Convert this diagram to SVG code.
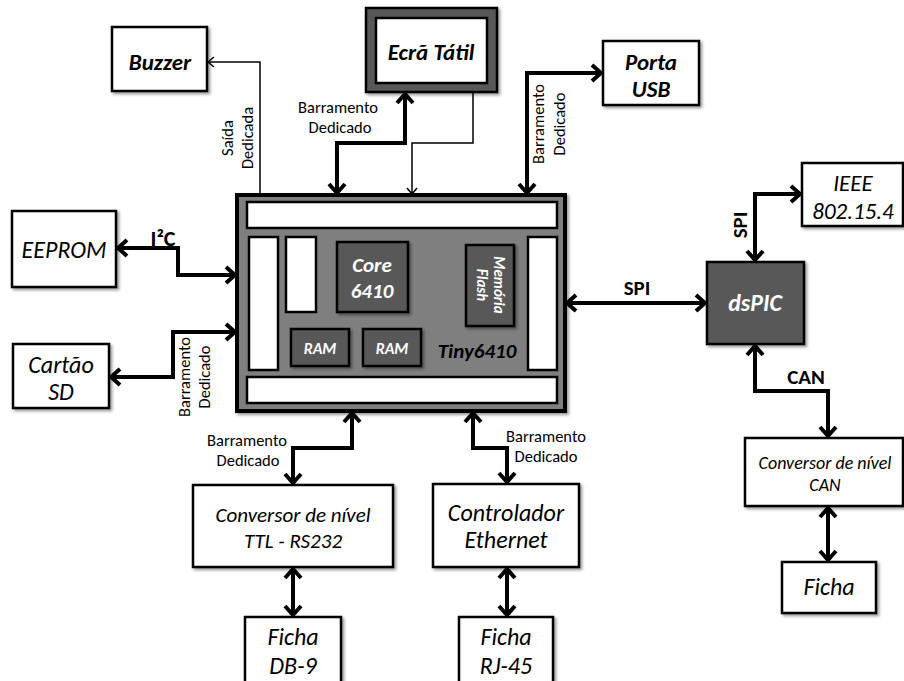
<svg xmlns="http://www.w3.org/2000/svg" width="904" height="681" viewBox="0 0 904 681">
<defs>
<filter id="sh" x="-10%" y="-10%" width="130%" height="130%"><feDropShadow dx="2" dy="2" stdDeviation="1.5" flood-color="#000" flood-opacity="0.4"/></filter>
<marker id="ah" markerWidth="22" markerHeight="22" refX="15" refY="10" orient="auto-start-reverse" markerUnits="userSpaceOnUse"><path d="M5,2 L14,10 L5,18" fill="none" stroke="#000" stroke-width="4"/></marker>
<marker id="at" markerWidth="14" markerHeight="14" refX="9" refY="6" orient="auto-start-reverse" markerUnits="userSpaceOnUse"><path d="M3,1 L9,6 L3,11" fill="none" stroke="#000" stroke-width="1.5"/></marker>
</defs>
<style>
.box{fill:#fff;stroke:#000;stroke-width:2.5;filter:url(#sh)}
.dk{fill:#595959;stroke:#000;stroke-width:2.5;filter:url(#sh)}
.wb{fill:#fff;stroke:#000;stroke-width:2.5}
.t{font-family:Carlito,Lato,"Liberation Sans",sans-serif;text-anchor:middle;fill:#000}
.bi{font-weight:bold;font-style:italic}
.it{font-style:italic}
.b{font-weight:bold}
.w{fill:#fff}
.thick{fill:none;stroke:#000;stroke-width:4;marker-start:url(#ah);marker-end:url(#ah)}
.thin{fill:none;stroke:#000;stroke-width:1.5;marker-end:url(#at)}
.sm{font-size:16.5px}
</style>
<g id="connectors">
<path class="thick" d="M405,93 V143 H337 V194"/>
<path class="thick" d="M527,194 V73 H602"/>
<path class="thick" d="M236,275 H178 V248 H117"/>
<path class="thick" d="M236,332 H173 V377 H110"/>
<path class="thick" d="M566,303 H706"/>
<path class="thick" d="M755,261 V194 H801"/>
<path class="thick" d="M755,345 V391 H828 V437"/>
<path class="thick" d="M828,507 V561"/>
<path class="thick" d="M352,412 V448 H293 V484"/>
<path class="thick" d="M473,412 V448 H507 V483"/>
<path class="thick" d="M293,568 V616"/>
<path class="thick" d="M507,568 V616"/>
<path class="thin" d="M260,194 V62 H208"/>
<path class="thin" d="M473,92 V143 H412 V194"/>
<text class="t sm" x="338" y="113">Barramento</text>
<text class="t sm" x="340" y="133">Dedicado</text>
<text class="t sm" transform="translate(233,138) rotate(-90)">Saída</text>
<text class="t sm" transform="translate(253,138) rotate(-90)">Dedicada</text>
<text class="t sm" transform="translate(544,124) rotate(-90)">Barramento</text>
<text class="t sm" transform="translate(565,124) rotate(-90)">Dedicado</text>
<text class="t sm" transform="translate(190,377) rotate(-90)">Barramento</text>
<text class="t sm" transform="translate(210,377) rotate(-90)">Dedicado</text>
<text class="t sm" x="247" y="446">Barramento</text>
<text class="t sm" x="248" y="466">Dedicado</text>
<text class="t sm" x="546" y="442">Barramento</text>
<text class="t sm" x="546" y="462">Dedicado</text>
<text class="t b" x="163" y="246" font-size="22">I²C</text>
<text class="t b" x="637" y="295" font-size="21">SPI</text>
<text class="t b" font-size="21" transform="translate(747,225) rotate(-90)">SPI</text>
<text class="t b" x="806" y="384" font-size="21">CAN</text>
</g>
<g id="buzzer"><rect class="box" x="112" y="27" width="95" height="64"/><text class="t bi" x="160" y="70" font-size="23">Buzzer</text></g>
<g id="ecra"><rect class="dk" x="366" y="8" width="131" height="84"/><rect class="wb" x="376" y="18" width="111" height="65"/><text class="t bi" x="431" y="60" font-size="23">Ecrã Tátil</text></g>
<g id="usb"><rect class="box" x="603" y="41" width="96" height="64"/><text class="t bi" x="651" y="70" font-size="23">Porta</text><text class="t bi" x="651" y="97" font-size="23">USB</text></g>
<g id="eeprom"><rect class="box" x="12" y="211" width="104" height="76"/><text class="t it" x="64" y="258" font-size="24">EEPROM</text></g>
<g id="cartao"><rect class="box" x="13" y="344" width="96" height="64"/><text class="t it" x="61" y="373" font-size="24">Cartão</text><text class="t it" x="61" y="400" font-size="24">SD</text></g>
<g id="tiny6410">
<rect x="237" y="195" width="328" height="216" fill="#7f7f7f" stroke="#000" stroke-width="4" filter="url(#sh)"/>
<rect class="wb" x="247" y="202" width="310" height="26"/>
<rect class="wb" x="249" y="237" width="29" height="133"/>
<rect class="wb" x="286" y="237" width="30" height="75"/>
<rect class="wb" x="528" y="237" width="29" height="133"/>
<rect class="wb" x="247" y="377" width="310" height="26"/>
<rect class="dk" x="337" y="242" width="71" height="70"/>
<text class="t bi w" x="372" y="272" font-size="21">Core</text>
<text class="t bi w" x="372" y="298" font-size="21">6410</text>
<rect class="dk" x="466" y="245" width="48" height="81"/>
<text class="t bi w" font-size="15" transform="translate(490,285) rotate(90)"><tspan x="0" y="-4">Memória</tspan><tspan x="0" y="13">Flash</tspan></text>
<rect class="dk" x="291" y="329" width="58" height="37"/>
<text class="t bi w" x="320" y="354" font-size="16">RAM</text>
<rect class="dk" x="363" y="329" width="58" height="37"/>
<text class="t bi w" x="392" y="354" font-size="16">RAM</text>
<text class="t bi" x="477" y="358" font-size="21">Tiny6410</text>
</g>
<g id="dspic"><rect class="dk" x="707" y="262" width="97" height="82"/><text class="t bi w" x="755" y="311" font-size="24">dsPIC</text></g>
<g id="ieee"><rect class="box" x="802" y="163" width="101" height="63"/><text class="t it" x="853" y="191" font-size="23">IEEE</text><text class="t it" x="853" y="219" font-size="23">802.15.4</text></g>
<g id="conv-can"><rect class="box" x="745" y="438" width="158" height="68"/><text class="t it" x="825" y="469" font-size="18">Conversor de nível</text><text class="t it" x="825" y="491" font-size="18">CAN</text></g>
<g id="ficha-can"><rect class="box" x="782" y="562" width="94" height="51"/><text class="t it" x="829" y="595" font-size="24">Ficha</text></g>
<g id="conv-ttl"><rect class="box" x="193" y="485" width="200" height="82"/><text class="t it" x="293" y="522" font-size="21">Conversor de nível</text><text class="t it" x="293" y="548" font-size="21">TTL - RS232</text></g>
<g id="eth"><rect class="box" x="433" y="484" width="146" height="83"/><text class="t it" x="506" y="521" font-size="24">Controlador</text><text class="t it" x="506" y="548" font-size="24">Ethernet</text></g>
<g id="db9"><rect class="box" x="245" y="617" width="96" height="72"/><text class="t it" x="293" y="645" font-size="24">Ficha</text><text class="t it" x="293" y="674" font-size="24">DB-9</text></g>
<g id="rj45"><rect class="box" x="459" y="617" width="94" height="72"/><text class="t it" x="506" y="645" font-size="24">Ficha</text><text class="t it" x="506" y="674" font-size="24">RJ-45</text></g>
</svg>
